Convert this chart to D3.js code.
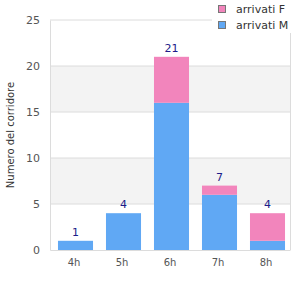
<!DOCTYPE html>
<html><head><meta charset="utf-8">
<script src="https://cdn.jsdelivr.net/npm/d3@7"></script>
<style>body{margin:0;background:#fff}text{font-family:"DejaVu Sans",sans-serif}</style>
</head><body><svg id="c" width="300" height="300"></svg>
<script>
const categories = ["4h","5h","6h","7h","8h"];
const maleValues = [1,4,16,6,1];
const femaleValues = [0,0,5,1,3];
const yTicks = [0,5,10,15,20,25];
const seriesNames = ["arrivati M","arrivati F"];
const seriesColors = ["#60a8f4","#f285bc"];

const svg = d3.select("#c");
const m = {l:50, r:10, t:20, b:50};
const W = 300, H = 300;
const xAxisScale = d3.scaleBand().domain(categories).range([m.l, W - m.r]).paddingInner(0.27).paddingOuter(0.135);
const x = xAxisScale.copy().range([m.l + 1.5, W - m.r + 1.5]);
const y = d3.scaleLinear().domain([0,25]).range([H - m.b, m.t]);

// shaded bands
[[5,10],[15,20]].forEach(([a,b]) => {
  svg.append("rect").attr("x", m.l).attr("width", W - m.r - m.l)
    .attr("y", y(b)).attr("height", y(a) - y(b)).attr("fill", "#f3f3f3");
});
// gridlines
svg.append("g").selectAll("line").data(yTicks.filter(t => t > 0)).join("line")
  .attr("x1", m.l).attr("x2", W - m.r).attr("y1", d => y(d)).attr("y2", d => y(d))
  .attr("stroke", "#dcdcdc");
// right border
svg.append("line").attr("x1", W - m.r + 0.5).attr("x2", W - m.r + 0.5).attr("y1", y(25)).attr("y2", y(0)).attr("stroke", "#dcdcdc");

const table = categories.map((c,i) => ({cat:c, M:maleValues[i], F:femaleValues[i]}));
const stack = d3.stack().keys(["M","F"])(table);
svg.append("g").selectAll("g").data(stack).join("g")
  .attr("fill", (d,i) => seriesColors[i])
  .selectAll("rect").data(d => d.filter(p => p[1] > p[0])).join("rect")
  .attr("x", d => x(d.data.cat)).attr("width", x.bandwidth())
  .attr("y", d => y(d[1])).attr("height", d => y(d[0]) - y(d[1]));

// totals
svg.append("g").selectAll("text").data(table).join("text")
  .attr("x", d => x(d.cat) + x.bandwidth()/2).attr("y", d => y(d.M + d.F) - 5)
  .attr("text-anchor", "middle").attr("font-size", 11).attr("fill", "#1c1c8a")
  .text(d => d.M + d.F);

// axes
const yAxis = svg.append("g").attr("transform", `translate(${m.l},0)`)
  .call(d3.axisLeft(y).tickValues(yTicks).tickSize(0).tickPadding(10));
yAxis.select(".domain").attr("stroke", "#dcdcdc");
yAxis.selectAll("text").attr("font-size", 11).attr("fill", "#555").attr("font-family", "DejaVu Sans");
const xAxis = svg.append("g").attr("transform", `translate(0,${H - m.b})`)
  .call(d3.axisBottom(xAxisScale).tickSize(0).tickPadding(9));
xAxis.select(".domain").attr("stroke", "#dcdcdc");
xAxis.selectAll("text").attr("font-size", 10).attr("fill", "#555").attr("font-family", "DejaVu Sans");

svg.append("text").attr("transform", `translate(10,${(y(0)+y(25))/2}) rotate(-90)`)
  .attr("text-anchor", "middle").attr("dy", "0.35em").attr("font-size", 10).attr("fill", "#333")
  .text("Numero del corridore");

// legend
const lg = svg.append("g");
lg.append("rect").attr("x", 212).attr("y", 0).attr("width", 88).attr("height", 33).attr("fill", "#fff");
const legendItems = [{n:seriesNames[1], c:seriesColors[1]}, {n:seriesNames[0], c:seriesColors[0]}];
legendItems.forEach((d,i) => {
  lg.append("rect").attr("x", 218.5).attr("y", 5.5 + i*16).attr("width", 7).attr("height", 7)
    .attr("fill", d.c).attr("stroke", "#777");
  lg.append("text").attr("x", 236).attr("y", 9 + i*16).attr("dy", "0.35em")
    .attr("font-size", 11).attr("fill", "#333").text(d.n);
});
</script></body></html>
